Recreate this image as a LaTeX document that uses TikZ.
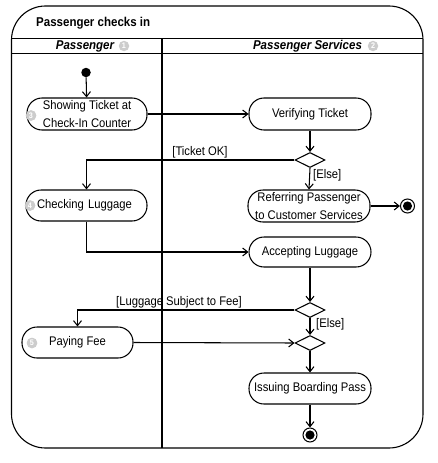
\documentclass[tikz,border=0pt]{standalone}
\usepackage{fontspec}
\setmainfont{Liberation Sans}[FakeStretch=0.9]
\usetikzlibrary{shapes.geometric,arrows.meta}
\begin{document}
\begin{tikzpicture}[x=1pt,y=-1pt,
  every node/.style={font=\fontsize{12.5}{18}\selectfont},
  act/.style={draw, rounded corners=15pt, minimum height=31pt, inner sep=1pt, align=center, line width=1.05pt},
  dec/.style={draw, diamond, aspect=2, minimum width=30pt, minimum height=15pt, inner sep=0pt, line width=1.05pt},
  numc/.style={circle, fill=gray!40, text=white, inner sep=0pt, minimum size=10.5pt, font=\fontsize{8}{8}\bfseries\selectfont},
  arr/.style={line width=1.05pt, -{Straight Barb[length=5pt,width=8pt]}},
  lbl/.style={inner sep=0pt}]
\useasboundingbox (0,0) rectangle (438,463);
% frame
\draw[line width=1.1pt, rounded corners=34pt] (11.5,6) rectangle (423,448);
\draw[line width=1.05pt] (11.5,38.5) -- (423,38.5);
\draw[line width=1.05pt] (11.5,53.5) -- (423,53.5);
\draw[line width=1.05pt] (162,38.5) -- (162,448);
% titles
\node[lbl, anchor=west, font=\fontsize{12.8}{14}\bfseries\selectfont] (title) at (36,23) {Passenger checks in};
\node[lbl, font=\fontsize{12.8}{14}\bfseries\itshape\selectfont] (h1) at (85,46) {Passenger};
\node[numc] (n1) at (124,46) {1};
\node[lbl, font=\fontsize{12.8}{14}\bfseries\itshape\selectfont] (h2) at (307.5,46) {Passenger Services};
\node[numc] (n2) at (373,46) {2};
% number markers
\node[numc] (n3) at (31,115.5) {3};
\node[numc] (n4) at (30,205.5) {4};
\node[numc] (n5) at (32,343) {5};
% nodes
\node[circle, fill=black, minimum size=9.5pt, inner sep=0pt] (init) at (86,72.5) {};
\node[act, minimum width=120pt, minimum height=32pt] (show) at (87,114) {Showing Ticket at\\Check-In Counter};
\node[act, minimum width=122pt, minimum height=32pt] (verify) at (310,114) {Verifying Ticket};
\node[dec] (d1) at (310,160) {};
\node[act, minimum width=121pt, text width=113pt, align=left] (check) at (86.5,205.5) {\hspace*{7pt}Checking Luggage};
\node[act, minimum width=122pt, minimum height=32pt] (refer) at (309,206) {Referring Passenger\\to Customer Services};
\node[circle, draw, line width=1.05pt, minimum size=14pt, inner sep=0pt] (f1) at (407.5,206) {};
\fill (f1.center) circle (4.6pt);
\node[act, minimum width=122pt, minimum height=30pt] (accept) at (310,252) {Accepting Luggage};
\node[dec] (d2) at (310,310) {};
\node[act, minimum width=111pt] (pay) at (77.5,342.5) {Paying Fee};
\node[dec] (m) at (310,343) {};
\node[act, minimum width=122pt] (issue) at (310,388.5) {Issuing Boarding Pass};
\node[circle, draw, line width=1.05pt, minimum size=14pt, inner sep=0pt] (f2) at (310,435) {};
\fill (f2.center) circle (4.6pt);
% markers over node borders
\node[numc] at (n3) {3};
\node[numc] at (n4) {4};
\node[numc] at (n5) {5};
% edges
\draw[arr] (init) -- (show);
\draw[arr] (show) -- (verify);
\draw[arr] (verify) -- (d1);
\draw[arr] (d1.west) -| (check.north);
\draw[arr] (d1.south) -- (refer.north);
\draw[arr] (refer.east) -- (f1.west);
\draw[arr] (check.south) |- (accept.west);
\draw[arr] (accept.south) -- (d2.north);
\draw[arr] (d2.west) -| (pay.north);
\draw[arr] (d2.south) -- (m.north);
\draw[arr] (pay.east) -- (m.west);
\draw[arr] (m.south) -- (issue.north);
\draw[arr] (issue.south) -- (f2.north);
% guards
\node[lbl] (g1) at (200,152) {[Ticket OK]};
\node[lbl, anchor=west] (g2) at (313,175) {[Else]};
\node[lbl] (g3) at (179,302) {[Luggage Subject to Fee]};
\node[lbl, anchor=west] (g4) at (316,324) {[Else]};
\end{tikzpicture}
\end{document}
